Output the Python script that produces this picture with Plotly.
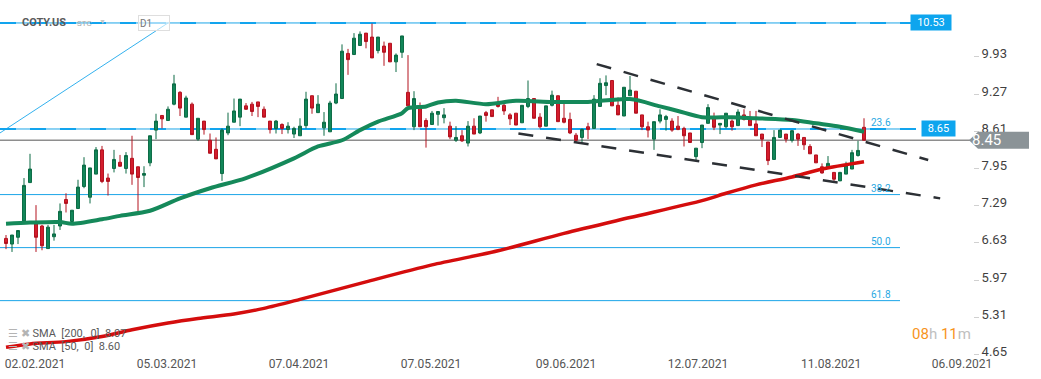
import plotly.graph_objects as go

# ---------------- data ----------------
symbol = "COTY.US"
opens = [6.71,6.61,6.73,7.02,7.70,6.97,6.93,6.53,6.74,6.93,
7.40,7.01,7.24,7.63,7.44,7.85,8.28,7.78,7.95,8.06,
7.95,8.13,7.98,7.83,8.05,8.63,8.89,8.80,9.09,9.30,
8.86,9.09,8.47,8.79,8.45,8.29,7.86,8.58,8.77,8.86,
9.06,9.09,9.13,9.00,8.79,8.66,8.73,8.64,8.56,8.53,
8.71,9.24,8.94,8.67,8.60,9.11,9.19,9.99,9.97,10.13,
10.35,10.28,10.04,10.12,10.17,9.84,10.01,9.30,8.69,9.02,
8.80,8.73,8.91,8.85,8.70,8.45,8.53,8.40,8.70,8.58,
8.94,8.99,9.09,9.07,8.90,8.93,8.76,9.05,9.19,8.86,
8.70,9.07,9.24,8.84,8.82,8.54,8.50,8.69,8.66,9.05,
9.42,9.51,9.07,8.88,9.24,9.32,8.90,8.69,8.47,8.79,
8.82,8.79,8.70,8.66,8.58,8.16,8.41,8.75,8.84,8.72,
8.69,8.79,8.71,8.90,8.82,8.74,8.56,8.42,8.11,8.50,
8.56,8.45,8.56,8.50,8.34,8.19,7.98,7.95,7.88,7.73,
7.85,7.94,8.18,8.68]
highs = [6.77,6.77,6.85,7.78,8.21,7.30,6.95,6.95,6.95,7.33,
7.51,7.21,7.75,8.15,7.96,8.33,8.35,7.86,8.28,8.19,
8.24,8.53,7.98,7.99,8.53,8.92,8.89,9.05,9.61,9.32,
9.24,9.12,8.84,8.79,8.57,8.50,8.66,8.94,9.19,9.18,
9.11,9.13,9.13,9.05,8.79,8.81,8.75,8.77,8.69,8.84,
9.31,9.24,9.25,8.95,9.15,9.46,10.15,10.07,10.35,10.38,
10.35,10.52,10.28,10.20,10.17,9.99,10.30,9.96,9.32,9.12,
8.84,8.97,8.96,9.02,8.78,8.70,8.63,8.79,8.84,8.88,
8.97,8.99,9.22,9.12,8.93,8.93,9.07,9.51,9.19,8.93,
9.06,9.33,9.24,9.12,8.94,8.58,8.66,8.76,9.25,9.55,
9.60,9.51,9.21,9.39,9.59,9.32,8.90,8.78,8.78,9.00,
8.90,8.84,8.88,8.69,8.58,8.31,8.72,9.09,8.94,8.75,
8.93,8.82,9.00,9.00,8.97,8.97,8.56,8.42,8.63,8.63,
8.56,8.63,8.58,8.50,8.38,8.19,8.04,8.17,7.88,7.89,
8.07,8.28,8.44,8.84]
lows = [6.52,6.47,6.61,7.02,7.70,6.47,6.50,6.53,6.67,6.86,
7.17,6.98,7.24,7.60,7.33,7.85,7.69,7.47,7.88,7.98,
7.86,7.66,7.18,7.62,7.99,8.47,8.66,8.80,9.07,8.88,
8.86,8.55,8.44,8.55,8.22,8.12,7.73,8.54,8.77,8.70,
8.99,8.88,8.86,8.86,8.57,8.57,8.56,8.57,8.49,8.53,
8.66,8.92,8.94,8.53,8.60,9.09,9.19,9.61,9.97,10.13,
10.08,9.91,9.99,9.77,9.84,9.66,9.91,9.06,8.63,8.69,
8.32,8.73,8.71,8.75,8.47,8.42,8.42,8.34,8.56,8.56,
8.78,8.87,9.03,8.90,8.72,8.72,8.76,9.02,8.84,8.66,
8.70,9.05,8.78,8.75,8.56,8.42,8.42,8.47,8.66,9.05,
9.25,9.06,8.90,8.88,9.24,8.93,8.63,8.50,8.28,8.75,
8.62,8.60,8.63,8.34,8.41,8.10,8.31,8.75,8.63,8.56,
8.66,8.62,8.71,8.80,8.71,8.53,8.33,8.01,8.11,8.49,
8.41,8.41,8.35,8.28,8.21,8.05,7.86,7.94,7.73,7.73,
7.85,7.94,8.16,8.45]
closes = [6.62,6.77,6.85,7.65,7.94,6.73,6.58,6.91,6.79,7.19,
7.33,7.21,7.62,8.01,7.96,8.28,7.72,7.72,8.11,7.99,
8.18,7.85,7.79,7.86,8.53,8.79,8.83,9.00,9.45,9.02,
9.20,8.55,8.84,8.64,8.22,8.12,8.63,8.70,8.97,9.18,
9.00,8.96,9.05,8.86,8.64,8.79,8.66,8.70,8.66,8.70,
9.18,9.02,9.09,8.77,9.11,9.27,10.03,9.88,10.26,10.33,
10.20,9.91,10.28,10.01,9.84,9.96,10.30,9.06,9.19,8.69,
8.69,8.93,8.96,8.90,8.51,8.50,8.44,8.70,8.56,8.88,
8.89,8.87,9.05,8.97,8.83,8.72,9.07,9.19,8.84,8.69,
9.06,9.25,8.78,8.77,8.58,8.45,8.64,8.64,9.18,9.46,
9.47,9.06,8.90,9.39,9.34,8.93,8.69,8.63,8.78,8.90,
8.87,8.63,8.64,8.53,8.41,8.31,8.72,9.03,8.68,8.75,
8.93,8.69,8.95,8.82,8.71,8.53,8.47,8.09,8.50,8.63,
8.47,8.62,8.47,8.37,8.21,8.05,7.87,8.04,7.76,7.88,
8.01,8.23,8.27,8.45]

# moving averages (bar index, value)
sma50_idx = [0,4,9,11,16,19,24,29,34,40,48,52,56,59,62,66,67,70,72,75,80,85,91,97,104,109,112,116,121,125,131,135,139,143]
sma50_val = [6.97,6.99,7.00,6.97,7.05,7.11,7.20,7.42,7.60,7.78,8.13,8.34,8.45,8.63,8.78,8.93,9.02,9.05,9.12,9.15,9.09,9.15,9.13,9.13,9.18,9.05,8.97,8.86,8.86,8.84,8.81,8.75,8.69,8.60]
sma200_idx = [0,4,10,16,21,27,32,38,43,49,60,71,82,93,104,116,120,125,131,136,143]
sma200_val = [4.78,4.84,4.88,4.97,5.09,5.21,5.29,5.37,5.47,5.63,5.94,6.24,6.49,6.80,7.08,7.38,7.51,7.66,7.80,7.94,8.07]
sma200_last = 8.07
sma50_last = 8.60

# x tick labels (bar-index positions)
xtick_pos = [0, 22, 44, 66, 88.5, 110.5, 132.7, 154.5]
xtick_text = ["02.02.2021", "05.03.2021", "07.04.2021", "07.05.2021",
              "09.06.2021", "12.07.2021", "11.08.2021", "06.09.2021"]
ytick_vals = [4.65, 5.31, 5.97, 6.63, 7.29, 7.95, 8.61, 9.27, 9.93]

# drawing tools
fib_high = 10.53
fib_low = 2.564
fib_levels = [0.0, 23.6, 38.2, 50.0, 61.8]
hlines = [10.53, 8.65]
last_price = 8.45
fib_anchor_x = [-1, 27]
fib_anchor_y = [8.58, 10.53]
upper_trend_x = [98.45, 153.7]
upper_trend_y = [9.80, 8.10]
lower_trend_x = [85.4, 155.7]
lower_trend_y = [8.57, 7.42]

# ---------------- figure ----------------
W, H = 1041, 379
ML, MR, MT, MB = 0, 68, 0, 24
PW = W - ML - MR  # plot width in px
BAR = 6.0         # px per bar
x_range = [-1, -1 + PW / BAR]
y_range = [4.643, 10.937]

GREEN = "#13875a"
GREEN_D = "#0c6b45"
RED = "#d51e2e"
RED_D = "#b3121f"
BLUE = "#1ba5e8"
FONT = "Roboto"

def px(p):
    return p / PW

fig = go.Figure()

fig.add_trace(go.Candlestick(
    x=list(range(len(opens))), open=opens, high=highs, low=lows, close=closes,
    increasing=dict(fillcolor=GREEN, line=dict(color=GREEN_D, width=1)),
    decreasing=dict(fillcolor=RED, line=dict(color=RED_D, width=1)),
    whiskerwidth=0, showlegend=False, hoverinfo="skip"))

fig.add_trace(go.Scatter(x=sma200_idx, y=sma200_val, mode="lines",
                         line=dict(color="#d40d0d", width=3.5, shape="spline", smoothing=0.8),
                         showlegend=False, hoverinfo="skip"))
fig.add_trace(go.Scatter(x=sma50_idx, y=sma50_val, mode="lines",
                         line=dict(color="#15895a", width=4, shape="spline", smoothing=0.8),
                         showlegend=False, hoverinfo="skip"))

shapes = []
annotations = []

# fibonacci levels
for lvl in fib_levels:
    yv = fib_high - lvl / 100.0 * (fib_high - fib_low)
    shapes.append(dict(type="line", xref="x", yref="y", x0=-1, x1=149, y0=yv, y1=yv,
                       line=dict(color=BLUE, width=1), layer="below"))
    if lvl > 0:
        annotations.append(dict(x=147.8, y=yv, xref="x", yref="y", text=f"{lvl:.1f}",
                                showarrow=False, xanchor="right", yanchor="bottom", yshift=-1,
                                font=dict(family=FONT, size=10, color="#2aa8e2")))
# fib anchor diagonal
shapes.append(dict(type="line", xref="x", yref="y", x0=fib_anchor_x[0], x1=fib_anchor_x[1],
                   y0=fib_anchor_y[0], y1=fib_anchor_y[1],
                   line=dict(color="#33b1ee", width=1), layer="below"))
# dashed horizontal line tools
for hv in hlines:
    shapes.append(dict(type="line", xref="x", yref="y", x0=-1, x1=152, y0=hv, y1=hv,
                       line=dict(color="#12a4ee", width=2, dash="16px,14px"), layer="below"))
    annotations.append(dict(x=px(952) if hv > 10 else px(955.5), y=hv, xref="paper", yref="y",
                            text=f"{hv:.2f}",
                            showarrow=False, bgcolor="#0ea5ee", width=38 if hv > 10 else 31,
                            height=13, borderpad=1,
                            font=dict(family=FONT, size=11, color="white")))

# last price line
shapes.append(dict(type="line", xref="paper", yref="y", x0=0, x1=px(970), y0=last_price, y1=last_price,
                   line=dict(color="#8e8e8e", width=1.5), layer="below"))

# trend lines
for tx, ty in ((upper_trend_x, upper_trend_y), (lower_trend_x, lower_trend_y)):
    shapes.append(dict(type="line", xref="x", yref="y", x0=tx[0], x1=tx[1], y0=ty[0], y1=ty[1],
                       line=dict(color="#2c3035", width=2.5, dash="15px,13px"), layer="above"))

# price tag
ph = 0.15
tag_path = (f"M {px(969)} {last_price} L {px(978)} {last_price + ph} L {px(1029)} {last_price + ph} "
            f"L {px(1029)} {last_price - ph} L {px(978)} {last_price - ph} Z")
shapes.append(dict(type="path", xref="paper", yref="y", path=tag_path,
                   fillcolor="#8b9397", line=dict(width=0), layer="above"))
annotations.append(dict(x=px(1003), y=last_price, xref="paper", yref="y", text=f"{last_price:.2f}",
                        showarrow=False, font=dict(family=FONT, size=15, color="white")))

# header
top = lambda p: 1 - p / (H - MT - MB)
annotations.append(dict(x=px(20), y=top(22), xref="paper", yref="paper", text=f"<b>{symbol}</b>",
                        showarrow=False, xanchor="left", yanchor="middle",
                        font=dict(family=FONT, size=11, color="#5b5b5b")))
annotations.append(dict(x=px(75), y=top(23), xref="paper", yref="paper", text="STC",
                        showarrow=False, xanchor="left", yanchor="middle",
                        font=dict(family=FONT, size=8, color="#a8a8a8")))
annotations.append(dict(x=px(97), y=top(22), xref="paper", yref="paper", text="▼",
                        showarrow=False, xanchor="left", yanchor="middle",
                        font=dict(family=FONT, size=7, color="#c8c8c8")))
annotations.append(dict(x=px(138), y=top(23), xref="paper", yref="paper", text="D1",
                        showarrow=False, xanchor="left", yanchor="middle", align="left",
                        width=28, height=12, borderpad=1, bordercolor="#dedede", borderwidth=1,
                        bgcolor="rgba(255,255,255,0.6)",
                        font=dict(family=FONT, size=10, color="#777777")))

# indicator legend
annotations.append(dict(x=px(6), y=top(333), xref="paper", yref="paper",
                        text=("<span style='color:#b4b4b4'>☰ ✖</span> SMA  [200,  0]  "
                              f"{sma200_last:.2f}"),
                        showarrow=False, xanchor="left", yanchor="middle",
                        font=dict(family=FONT, size=11, color="#5a5a5a")))
annotations.append(dict(x=px(6), y=top(346), xref="paper", yref="paper",
                        text=("<span style='color:#b4b4b4'>☰ ✖</span> SMA  [50,  0]  "
                              f"{sma50_last:.2f}"),
                        showarrow=False, xanchor="left", yanchor="middle",
                        font=dict(family=FONT, size=11, color="#5a5a5a")))

# countdown
annotations.append(dict(x=px(973), y=top(334), xref="paper", yref="paper",
                        text=("<span style='color:#f7941d'>08</span><span style='color:#c0c0c0'>h</span> "
                              "<span style='color:#f7941d'>11</span><span style='color:#c0c0c0'>m</span>"),
                        showarrow=False, xanchor="right", yanchor="middle",
                        font=dict(family=FONT, size=15)))

fig.update_layout(
    width=W, height=H,
    margin=dict(l=ML, r=MR, t=MT, b=MB),
    paper_bgcolor="white", plot_bgcolor="white",
    shapes=shapes, annotations=annotations,
    showlegend=False, hovermode=False,
    xaxis=dict(range=x_range, rangeslider=dict(visible=False), showgrid=False, zeroline=False,
               tickmode="array", tickvals=xtick_pos, ticktext=xtick_text, ticklabelshift=29,
               ticks="", tickfont=dict(family=FONT, size=12, color="#555555"), fixedrange=True),
    yaxis=dict(range=y_range, side="right", showgrid=False, zeroline=False,
               tickmode="array", tickvals=ytick_vals, ticktext=[f"{v:.2f}" for v in ytick_vals],
               ticks="outside", ticklen=5, tickcolor="#d0d0d0", ticklabelshift=-3,
               tickfont=dict(family=FONT, size=13, color="#3f3f3f"), fixedrange=True),
)

fig.write_html("out.html", config={"displayModeBar": False},
               post_script="document.body.style.margin='0';document.body.style.overflow='hidden';")
